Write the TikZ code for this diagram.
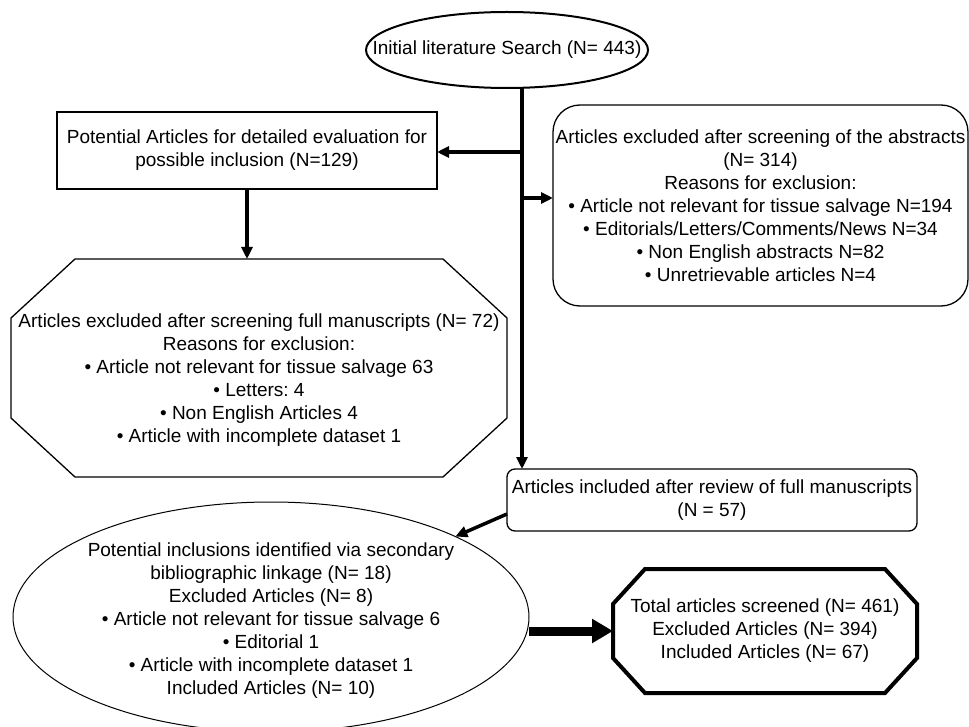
\documentclass[tikz,border=0pt]{standalone}
\usepackage{fontspec}
\setmainfont{Liberation Sans}
\usepackage{tikz}
\usetikzlibrary{positioning, shapes.geometric, arrows.meta, calc}
\frenchspacing

% several centred lines as one block
\newcommand{\textlines}[1]{\begin{tabular}{@{}c@{}}#1\end{tabular}}
% text that takes no room, so the shape keeps its given size
\newcommand{\nosize}[1]{\smash{\makebox[0pt]{#1}}}
% octagon frame round a node
\newcommand{\octframe}[4][]{%
  \draw[#1] ($(#2.north west)+(#3,0)$) -- ($(#2.north east)+(-#3,0)$)
    -- ($(#2.north east)+(0,#4)$) -- ($(#2.south east)+(0,-#4)$)
    -- ($(#2.south east)+(-#3,0)$) -- ($(#2.south west)+(#3,0)$)
    -- ($(#2.south west)+(0,-#4)$) -- ($(#2.north west)+(0,#4)$) -- cycle;}

\begin{document}
\begin{tikzpicture}[x=1pt, y=-1pt, >={Triangle[length=12pt, width=11pt]},
        every node/.style={font=\fontsize{19}{23}\selectfont, inner sep=0pt, outer sep=0pt},
        plainbox/.style={draw, line width=1.3pt, align=center},
        roundbox/.style={plainbox, rounded corners=#1},
        flow/.style={->, line width=3.5pt},
        bigflow/.style={-{Triangle[length=21pt, width=23pt]}, line width=9pt}]
      \useasboundingbox (0,0) rectangle (969,727);

      % Search
      \node[draw, ellipse, line width=2pt, minimum width=282pt, minimum height=76pt] (search) at (507,50) {\makebox[0pt]{Initial literature Search (N= 443)}};

      % First screening
      \node[plainbox, minimum width=380pt, minimum height=77pt] (potential) at (247,150.5) {Potential Articles for detailed evaluation for\\possible inclusion (N=129)};
      \node[roundbox=27pt, minimum width=415pt, minimum height=201pt] (abstracts) at (760.5,205.5) {Articles excluded after screening of the abstracts\\(N= 314)\\Reasons for exclusion:\\• Article not relevant for tissue salvage N=194\\• Editorials/Letters/Comments/News N=34\\• Non English abstracts N=82\\• Unretrievable articles N=4};

      % Full manuscripts
      \node[minimum width=496pt, minimum height=218pt, below=70pt of potential, xshift=12pt] (fullms) {\raisebox{-12pt}[\height][\depth]{\textlines{Articles excluded after screening full manuscripts (N= 72)\\Reasons for exclusion:\\• Article not relevant for tissue salvage 63\\• Letters: 4\\• Non English Articles 4\\• Article with incomplete dataset 1}}};
      \octframe[line width=1.3pt]{fullms}{64}{59}
      \node[roundbox=8pt, minimum width=410pt, minimum height=62pt] (included) at (712,500) {Articles included after review of full manuscripts\\(N = 57)};

      % Secondary search and totals
      \node[draw, ellipse, line width=1pt, minimum width=516pt, minimum height=230pt] (secondary) at (271,617) {\nosize{\raisebox{-8pt}{\textlines{Potential inclusions identified via secondary\\bibliographic linkage (N= 18)\\Excluded Articles (N= 8)\\• Article not relevant for tissue salvage 6\\• Editorial 1\\• Article with incomplete dataset 1\\Included Articles (N= 10)}}}};
      \node[minimum width=304pt, minimum height=124pt, right=84pt of secondary, yshift=-14pt] (total) {\textlines{Total articles screened (N= 461)\\Excluded Articles (N= 394)\\Included Articles (N= 67)}};
      \octframe[line width=4pt]{total}{32}{35}

      % Arrows
      \coordinate (tapleft) at (522,152);
      \coordinate (tapright) at (522,198);
      \draw[flow] (search.south -| tapleft) -- (tapleft |- included.north);
      \draw[flow] (tapleft) -- (tapleft -| potential.east);
      \draw[flow] (tapright) -- (tapright -| abstracts.west);
      \draw[flow] (potential.south) -- (fullms.north -| potential.south);
      \draw[flow] ([yshift=-14pt]included.west) -- (secondary);
      \draw[bigflow] (total.west -| secondary.east) -- (total.west);
    \end{tikzpicture}
\end{document}
